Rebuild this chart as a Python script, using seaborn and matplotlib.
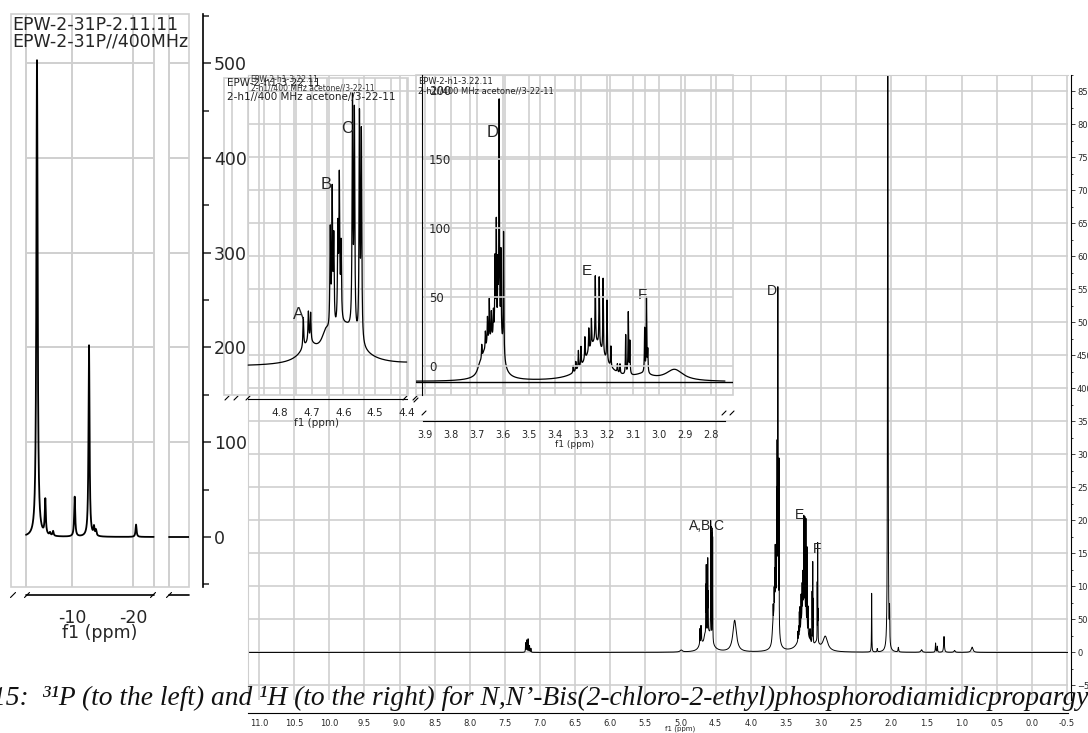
import numpy as np
import pandas as pd
import matplotlib
matplotlib.use("Agg")
import matplotlib.pyplot as plt
from matplotlib.lines import Line2D
from matplotlib.patches import Rectangle
from matplotlib.ticker import MultipleLocator, FormatStrFormatter
import seaborn as sns

# 31P peaks: position (ppm), height, half width (ppm)
p31_ppm = [-4.26, -5.62, -6.40, -6.90, -10.44, -12.79, -13.60, -13.93, -20.50]
p31_height = [503, 37, 3, 5, 42, 202, 9, 6, 13]
p31_hw = [0.12, 0.10, 0.10, 0.10, 0.10, 0.10, 0.10, 0.10, 0.10]

h1_ppm = [7.205, 7.19, 7.17, 7.15, 7.13, 4.99,
          4.595, 4.71, 4.655,
          4.726, 4.710, 4.703,
          4.641, 4.635, 4.630, 4.617, 4.6125, 4.607,
          4.571, 4.565, 4.549, 4.543,
          4.23,
          3.64, 3.603, 3.615, 3.63, 3.645, 3.66, 3.675, 3.69,
          3.682, 3.668, 3.660, 3.653, 3.645, 3.637, 3.631, 3.626, 3.620, 3.615, 3.608, 3.598,
          3.245,
          3.330, 3.320, 3.310, 3.300, 3.285, 3.270, 3.260, 3.245, 3.230, 3.215, 3.200, 3.185,
          3.160, 3.150, 3.128, 3.118, 3.112,
          3.06, 3.055, 3.048, 3.043,
          2.94, 2.28, 2.20, 2.05, 2.025, 1.90, 1.57, 1.37, 1.345, 1.25, 1.10, 0.85]
h1_height = [14, 18, 20, 10, 6, 3,
             28, 12, 12,
             22, 22, 21,
             72, 99, 64, 68, 104, 55,
             165, 157, 161, 150,
             48,
             12, 30, 45, 42, 38, 35, 25, 15,
             27, 35, 49, 84, 49, 50, 143, 216, 127, 450, 168, 238,
             76,
             14, 18, 35, 37, 44, 45, 53, 129, 134, 147, 119, 40,
             16, 18, 77, 121, 64,
             10, 86, 146, 43,
             22, 89, 5, 2400, 50, 7, 4, 14, 9, 24, 3, 8]
h1_hw = [0.003, 0.003, 0.003, 0.003, 0.003, 0.02,
         0.05, 0.03, 0.015,
         0.0015, 0.0015, 0.0015,
         0.0015, 0.0015, 0.0015, 0.0015, 0.0015, 0.0015,
         0.0015, 0.0015, 0.0015, 0.0015,
         0.03,
         0.05, 0.01, 0.01, 0.01, 0.01, 0.01, 0.01, 0.01,
         0.0012, 0.0012, 0.0012, 0.0012, 0.0012, 0.0012, 0.0012, 0.0012, 0.0012, 0.0012, 0.0012, 0.0012,
         0.045,
         0.0012, 0.0012, 0.0012, 0.0012, 0.0012, 0.0012, 0.0012, 0.0012, 0.0012, 0.0012, 0.0012, 0.0012,
         0.0012, 0.0012, 0.0012, 0.0012, 0.0012,
         0.04, 0.0012, 0.0012, 0.0012,
         0.04, 0.0025, 0.004, 0.0025, 0.003, 0.005, 0.012, 0.004, 0.004, 0.006, 0.01, 0.015]

caption = ("15:  \u00b3\u00b9P (to the left) and \u00b9H (to the right) for "
           "N,N\u2019-Bis(2-chloro-2-ethyl)phosphorodiamidicpropargyl")


def lorentz(x, centers, heights, widths):
    c = np.asarray(centers, float)[:, None]
    h = np.asarray(heights, float)[:, None]
    w = np.asarray(widths, float)[:, None]
    return (h * w ** 2 / ((x[None, :] - c) ** 2 + w ** 2)).sum(axis=0)


grid_h = np.arange(11.2, -0.6, -0.0002)
h1 = pd.DataFrame({"ppm": grid_h, "intensity": lorentz(grid_h, h1_ppm, h1_height, h1_hw)})
grid_a = np.arange(-2.46, -23.4, -0.01)
grid_b = np.arange(-25.9, -29.18, -0.01)
p31a = pd.DataFrame({"ppm": grid_a, "intensity": lorentz(grid_a, p31_ppm, p31_height, p31_hw)})
p31b = pd.DataFrame({"ppm": grid_b, "intensity": lorentz(grid_b, p31_ppm, p31_height, p31_hw)})

sns.set_style("white")
plt.rcParams["font.family"] = ["DejaVu Sans"]

W, H = 1088, 733
fig = plt.figure(figsize=(W / 100, H / 100), dpi=100)
GRID = "#cfcfcf"


def rect(x0, y0, x1, y1):
    return [x0 / W, 1 - y1 / H, (x1 - x0) / W, (y1 - y0) / H]


def ftext(x, y, s, **kw):
    fig.text(x / W, 1 - y / H, s, **kw)


def seg(x0, y0, x1, y1, **kw):
    fig.add_artist(Line2D([x0 / W, x1 / W], [1 - y0 / H, 1 - y1 / H], **kw))


def slash(x, y, s=4):
    seg(x - s / 2, y + s / 2, x + s / 2, y - s / 2, color="black", lw=0.8)


def frame(a):
    a.add_patch(Rectangle((0, 0), 1, 1, transform=a.transAxes, fill=False,
                          ec=GRID, lw=1.2, clip_on=False))


# ---------------- main 1H spectrum ----------------
ax = fig.add_axes(rect(248, 75, 1068, 700))
ax.set_zorder(1)
sns.lineplot(data=h1, x="ppm", y="intensity", ax=ax, color="black", lw=0.7,
             estimator=None, sort=False)
ax.set_xlim(11.157, -0.515)
ax.set_ylim(-72, 875)
ax.set_xticks(np.round(np.arange(22, -2, -1) * 0.5, 1))
ax.xaxis.set_major_formatter(FormatStrFormatter("%.1f"))
ax.xaxis.set_minor_locator(MultipleLocator(0.1))
ax.set_yticks(np.arange(-50, 851, 50))
ax.yaxis.set_minor_locator(MultipleLocator(25))
ax.yaxis.tick_right()
ax.tick_params(which="both", direction="out", labelsize=6, pad=1.5, width=0.6)
ax.tick_params(which="major", length=3)
ax.tick_params(which="minor", length=1.5)
ax.grid(which="major", color=GRID, lw=1.2)
ax.set_axisbelow(True)
for s in ["left", "top"]:
    ax.spines[s].set_color(GRID)
ax.spines["right"].set_position(("outward", 2))
ax.spines["bottom"].set_position(("outward", 9))
for s in ["right", "bottom"]:
    ax.spines[s].set_color("black")
    ax.spines[s].set_linewidth(0.8)
ax.set_ylabel("")
ax.set_xlabel("f1 (ppm)", fontsize=5, labelpad=0)
ax.xaxis.set_label_coords(0.527, -0.041)
for lab, x, y in [("A,B,C", 4.63, 191), ("D", 3.70, 548), ("E", 3.31, 208), ("F", 3.06, 157)]:
    ax.text(x, y, lab, fontsize=10, family="Liberation Sans", ha="center", va="center")

# ---------------- inset A, B, C ----------------
ax1 = fig.add_axes(rect(224, 78, 408, 395), facecolor="none")
ax1.set_zorder(2)
sub1 = h1[(h1.ppm <= 4.9) & (h1.ppm >= 4.4)]
sns.lineplot(data=sub1, x="ppm", y="intensity", ax=ax1, color="black", lw=0.9,
             estimator=None, sort=False)
ax1.set_xlim(4.976, 4.396)
ax1.set_ylim(-20.4, 211)
ax1.set_xticks([4.8, 4.7, 4.6, 4.5, 4.4])
ax1.xaxis.set_minor_locator(MultipleLocator(0.05))
ax1.set_yticks([])
ax1.grid(axis="x", which="both", color=GRID, lw=1.2)
ax1.set_axisbelow(True)
for s in ["left", "top", "right"]:
    ax1.spines[s].set_visible(False)
ax1.spines["bottom"].set_position(("outward", 3))
ax1.spines["bottom"].set_bounds(4.9, 4.4)
ax1.spines["bottom"].set_color("black")
ax1.tick_params(axis="x", which="both", direction="out", labelsize=7.5, pad=2)
ax1.tick_params(axis="x", which="major", length=4)
ax1.tick_params(axis="x", which="minor", length=2.5)
ax1.set_xlabel("f1 (ppm)", fontsize=7.5, labelpad=0)
ax1.set_ylabel("")
frame(ax1)
for lab, x, y in [("A", 4.741, 38), ("B", 4.653, 133), ("C", 4.587, 174)]:
    ax1.text(x, y, lab, fontsize=12, family="Liberation Sans", ha="center", va="center")

# ---------------- inset D, E, F ----------------
ax2 = fig.add_axes(rect(416, 75, 733, 395), facecolor="none")
ax2.set_zorder(2)
sub2 = h1[(h1.ppm <= 3.935) & (h1.ppm >= 2.746)]
sns.lineplot(data=sub2, x="ppm", y="intensity", ax=ax2, color="black", lw=0.9,
             estimator=None, sort=False)
ax2.axhline(0, color="black", lw=1.0)
ax2.set_xlim(3.935, 2.715)
ax2.set_ylim(-25.5, 601)
ax2.set_xticks(np.round(np.arange(39, 27, -1) * 0.1, 1))
ax2.xaxis.set_minor_locator(MultipleLocator(0.05))
ax2.set_yticks([])
ax2.grid(axis="x", which="major", color=GRID, lw=1.2)
ax2.set_axisbelow(True)
for s in ["left", "top", "right"]:
    ax2.spines[s].set_visible(False)
ax2.spines["bottom"].set_position(("outward", 19))
ax2.spines["bottom"].set_bounds(3.909, 2.746)
ax2.spines["bottom"].set_color("black")
ax2.tick_params(axis="x", which="both", direction="out", labelsize=7, pad=2)
ax2.tick_params(axis="x", which="major", length=4)
ax2.tick_params(axis="x", which="minor", length=2.5)
ax2.set_xlabel("f1 (ppm)", fontsize=6.5, labelpad=0)
ax2.set_ylabel("")
frame(ax2)
for lab, x, y, fs in [("D", 3.642, 488, 12), ("E", 3.277, 218, 11), ("F", 3.062, 171, 11)]:
    ax2.text(x, y, lab, fontsize=fs, family="Liberation Sans", ha="center", va="center")

ax2y = fig.add_axes(rect(422, 75, 733, 395), facecolor="none")
ax2y.set_zorder(3)
ax2y.set_ylim(-21, 211)
ax2y.set_xticks([])
ax2y.set_yticks([0, 50, 100, 150, 200])
ax2y.yaxis.set_minor_locator(MultipleLocator(25))
ax2y.grid(axis="y", which="major", color=GRID, lw=1.2)
for s in ["top", "right", "bottom"]:
    ax2y.spines[s].set_visible(False)
ax2y.spines["left"].set_color("black")
ax2y.tick_params(axis="y", which="both", direction="in", labelsize=8.5, pad=-5)
ax2y.tick_params(axis="y", which="major", length=5)
ax2y.tick_params(axis="y", which="minor", length=3)
plt.setp(ax2y.get_yticklabels(), ha="left")

# ---------------- 31P spectrum ----------------
axp = fig.add_axes(rect(11, 14, 189, 587))
axp.set_zorder(4)
for part in [p31a, p31b]:
    sns.lineplot(data=part, x="ppm", y="intensity", ax=axp, color="black", lw=1.3,
                 estimator=None, sort=False)
axp.set_xlim(0, -29.18)
axp.set_ylim(-52.8, 552)
axp.vlines([-2.46, -10, -20, -23.4, -25.9], -52.8, 552, color=GRID, lw=1.4, zorder=0)
axp.hlines([100, 200, 300, 400, 500], -2.46, -23.4, color=GRID, lw=1.4, zorder=0)
axp.hlines([100, 200, 300, 400, 500], -25.9, -29.18, color=GRID, lw=1.4, zorder=0)
frame(axp)
axp.set_xticks([-10, -20])
axp.set_xticks([-5, -15], minor=True)
axp.xaxis.set_major_formatter(FormatStrFormatter("%d"))
axp.set_yticks([0, 100, 200, 300, 400, 500])
axp.yaxis.set_minor_locator(MultipleLocator(50))
axp.yaxis.tick_right()
for s in ["left", "top", "bottom"]:
    axp.spines[s].set_visible(False)
axp.spines["bottom"].set_position(("outward", 8))
axp.spines["right"].set_position(("outward", 10))
axp.spines["right"].set_color("black")
axp.spines["right"].set_linewidth(1.2)
axp.tick_params(which="both", direction="out", labelsize=12.5, width=1.1, pad=2)
axp.tick_params(which="major", length=6)
axp.tick_params(which="minor", length=4)
axp.set_xlabel("f1 (ppm)", fontsize=12.5, labelpad=-2)
axp.set_ylabel("")
axp.text(0.005, 0.997, "EPW-2-31P-2.11.11", transform=axp.transAxes, fontsize=12.5,
         va="top", clip_on=True)
axp.text(0.005, 0.968, "EPW-2-31P//400MHz", transform=axp.transAxes, fontsize=12.5,
         va="top", clip_on=True)
seg(26, 595, 154, 595, color="black", lw=1.2)
seg(169, 595, 189, 595, color="black", lw=1.2)
for x in [13, 27, 153, 169]:
    slash(x, 595, 5)

# break marks on the inset axes
for x in [227, 236, 248, 405, 415]:
    slash(x, 398)
for x, y in [[416, 400], [424, 413], [724, 413], [732, 413]]:
    slash(x, y)

# inset headers
ftext(227, 83, "EPW-2-h1-3.22.11", fontsize=7.5, va="center", color="#222222")
ftext(227, 97, "2-h1//400 MHz acetone//3-22-11", fontsize=7.5, va="center", color="#222222")
ftext(250, 79, "EPW-2-h1-3.22.11", fontsize=5.5, va="center", color="#333333")
ftext(251, 88, "2-h1//400 MHz acetone//3-22-11", fontsize=5.5, va="center", color="#333333")
ftext(418, 81, "EPW-2-h1-3.22.11", fontsize=6, va="center", color="#222222")
ftext(418, 91, "2-h1//400 MHz acetone//3-22-11", fontsize=6, va="center", color="#222222")

# caption overlaid on the figure
ftext(-8, 705, caption, fontsize=19.8, style="italic", family="Liberation Serif",
      va="baseline", ha="left", color="#111111", zorder=10)

fig.savefig("out.png", dpi=100)
